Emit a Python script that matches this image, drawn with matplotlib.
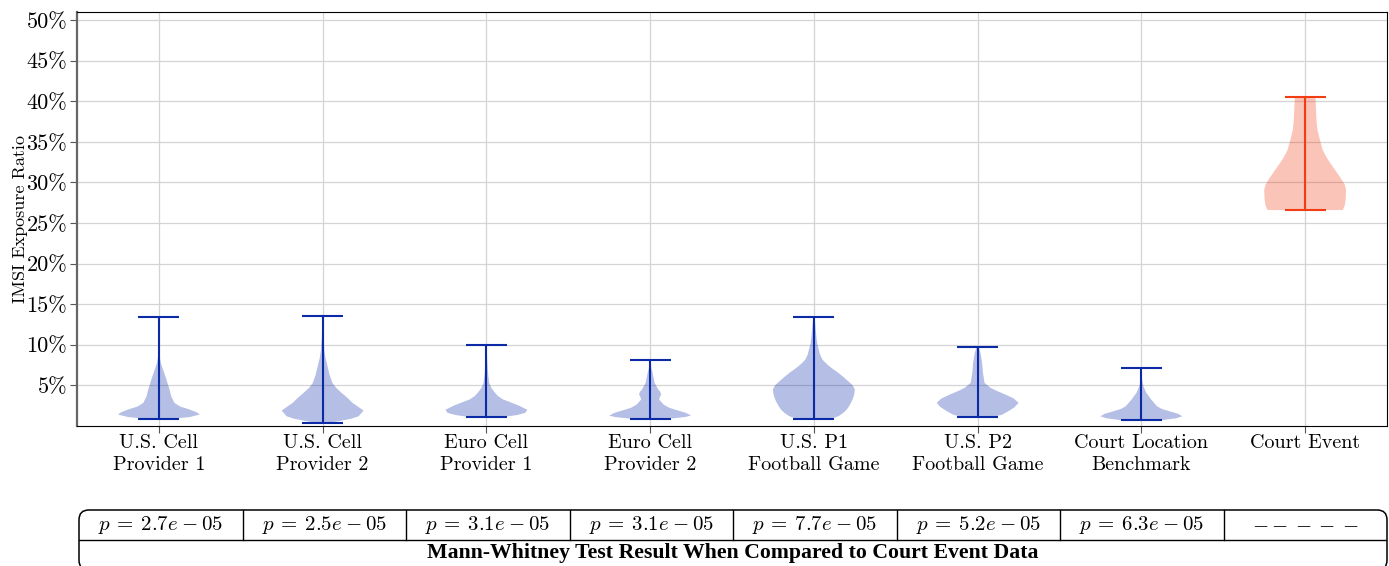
import numpy as np
import matplotlib
matplotlib.use("Agg")
import matplotlib.pyplot as plt
from matplotlib.patches import FancyBboxPatch

plt.rcParams["font.family"] = "serif"
plt.rcParams["font.serif"] = ["cmr10"]
plt.rcParams["mathtext.fontset"] = "cm"
plt.rcParams["axes.formatter.use_mathtext"] = True
plt.rcParams["axes.unicode_minus"] = False

# --------------------------------------------------------------
#  data (percent)
# --------------------------------------------------------------
categories = ["U.S. Cell\nProvider 1", "U.S. Cell\nProvider 2",
              "Euro Cell\nProvider 1", "Euro Cell\nProvider 2",
              "U.S. P1\nFootball Game", "U.S. P2\nFootball Game",
              "Court Location\nBenchmark", "Court Event"]

# density profiles: y levels (%) and relative half widths (0..1)
us_cell_1_y = [0.9, 1.1, 1.41, 1.7, 2.03, 2.4, 2.85, 3.67, 4.5, 5.3, 6.1, 6.95, 7.7, 8.4, 9.4, 11.5, 13.4]
us_cell_1_w = [0.35, 0.75, 1.0, 0.92, 0.75, 0.52, 0.38, 0.3, 0.26, 0.21, 0.16, 0.1, 0.05, 0.025, 0.012, 0.008, 0.005]

us_cell_2_y = [0.4, 0.6, 0.9, 1.2, 1.9, 2.4, 2.85, 3.5, 4.1, 4.7, 5.3, 6.3, 7.35, 8.4, 9.4, 11.5, 13.6]
us_cell_2_w = [0.15, 0.4, 0.7, 0.88, 1.0, 0.86, 0.73, 0.6, 0.46, 0.33, 0.24, 0.17, 0.12, 0.07, 0.04, 0.015, 0.005]

euro_cell_1_y = [1.13, 1.35, 1.62, 2.0, 2.5, 3.0, 3.26, 3.7, 4.1, 4.7, 5.3, 6.3, 7.4, 8.7, 10.0]
euro_cell_1_w = [0.45, 0.75, 0.95, 1.0, 0.8, 0.55, 0.41, 0.28, 0.21, 0.12, 0.07, 0.045, 0.03, 0.015, 0.008]

euro_cell_2_y = [0.92, 1.1, 1.29, 1.62, 2.0, 2.24, 2.64, 3.26, 3.6, 3.87, 4.2, 4.49, 5.3, 6.54, 7.35, 8.18]
euro_cell_2_w = [0.5, 0.85, 1.0, 0.87, 0.62, 0.47, 0.33, 0.22, 0.24, 0.27, 0.25, 0.2, 0.11, 0.06, 0.02, 0.005]

us_p1_y = [0.88, 1.2, 1.62, 2.0, 2.44, 3.0, 3.47, 4.0, 4.49, 5.0, 5.51, 6.0, 6.54, 7.0, 7.35, 7.8, 8.18, 8.8, 9.4, 10.2, 11.05, 12.7, 13.4]
us_p1_w = [0.42, 0.6, 0.72, 0.8, 0.86, 0.92, 0.96, 0.99, 1.0, 0.95, 0.84, 0.73, 0.6, 0.47, 0.38, 0.28, 0.21, 0.15, 0.12, 0.08, 0.06, 0.03, 0.02]

us_p2_y = [1.13, 1.4, 1.82, 2.3, 2.85, 3.4, 3.87, 4.3, 4.69, 5.3, 6.54, 7.77, 9.0, 9.7]
us_p2_w = [0.4, 0.6, 0.75, 0.9, 1.0, 0.88, 0.68, 0.48, 0.32, 0.17, 0.13, 0.11, 0.07, 0.03]

court_loc_y = [0.72, 0.95, 1.2, 1.5, 1.82, 2.1, 2.44, 3.26, 4.08, 4.9, 5.9, 7.16]
court_loc_w = [0.5, 0.85, 1.0, 0.9, 0.68, 0.5, 0.38, 0.24, 0.12, 0.05, 0.01, 0.005]

court_event_y = [26.6, 27.2, 27.9, 29.1, 29.7, 30.3, 30.9, 31.55, 32.2, 32.8, 33.4, 34.0, 35.25, 36.5, 37.5, 38.5, 40.57]
court_event_w = [0.92, 0.97, 0.99, 1.0, 0.97, 0.9, 0.82, 0.73, 0.64, 0.56, 0.49, 0.43, 0.36, 0.3, 0.28, 0.27, 0.25]

profiles_y = [us_cell_1_y, us_cell_2_y, euro_cell_1_y, euro_cell_2_y,
              us_p1_y, us_p2_y, court_loc_y, court_event_y]
profiles_w = [us_cell_1_w, us_cell_2_w, euro_cell_1_w, euro_cell_2_w,
              us_p1_w, us_p2_w, court_loc_w, court_event_w]

p_values = ["2.7e", "2.5e", "3.1e", "3.1e", "7.7e", "5.2e", "6.3e", None]
table_title = "Mann-Whitney Test Result When Compared to Court Event Data"

yticks = [5, 10, 15, 20, 25, 30, 35, 40, 45, 50]

blue = "#0b2aa6"
red = "#f23c14"
colors = [blue] * 7 + [red]

# --------------------------------------------------------------
#  figure
# --------------------------------------------------------------
W, H = 1389, 566
fig = plt.figure(figsize=(W / 100, H / 100), dpi=100)
ax = fig.add_axes([77 / W, 1 - 426 / H, (1387 - 77) / W, (426 - 12) / H])

positions = np.arange(1, len(categories) + 1)
vpstats = []
for ys, ws in zip(profiles_y, profiles_w):
    vpstats.append({"coords": np.array(ys), "vals": np.array(ws),
                    "mean": np.nan, "median": np.nan,
                    "min": ys[0], "max": ys[-1]})

parts = ax.violin(vpstats, positions=positions, widths=0.5, showextrema=True)
for body, c in zip(parts["bodies"], colors):
    body.set_facecolor(c)
    body.set_edgecolor("none")
    body.set_alpha(0.3)
for key in ("cbars", "cmins", "cmaxes"):
    parts[key].set_color(colors)
    parts[key].set_linewidth(1.5)

ax.set_xlim(0.5, len(categories) + 0.5)
ax.set_ylim(0, 51)
ax.set_xticks(positions)
ax.set_xticklabels(categories, fontsize=14.5, linespacing=1.25)
ax.set_yticks(yticks)
ax.set_yticklabels([f"{v}%" for v in yticks], fontsize=16)
ax.set_ylabel("IMSI Exposure Ratio", fontsize=13, labelpad=-1)
ax.grid(True, color="#d4d4d4", linewidth=0.9)
ax.set_axisbelow(True)
ax.tick_params(length=5, color="#555555", pad=2)
ax.tick_params(axis="x", pad=1)
ax.spines["left"].set_color("#666666")
ax.spines["left"].set_linewidth(1.6)

# --------------------------------------------------------------
#  p-value table below the plot (units: x = column, y = pixels up)
# --------------------------------------------------------------
tab = fig.add_axes([79 / W, -6 / H, (1387 - 79) / W, 64 / H])
n = len(categories)
tab.set_xlim(0, n)
tab.set_ylim(0, 64)
tab.axis("off")
box = FancyBboxPatch((0, 2), n, 60, boxstyle="round,pad=0,rounding_size=0.06",
                     mutation_aspect=163.5, facecolor="none",
                     edgecolor="black", linewidth=1.1, clip_on=False)
tab.add_patch(box)
tab.plot([0, n], [32, 32], color="black", linewidth=1.0)
for k in range(1, n):
    tab.plot([k, k], [32, 62], color="black", linewidth=1.0)
for k, mant in enumerate(p_values):
    if mant is None:
        txt = r"$- - - - -$"
    else:
        txt = rf"$p\:=\:{mant}\:-\:05$"
    tab.text(k + 0.5, 47, txt, ha="center", va="center", fontsize=15)
tab.text(n / 2, 19, table_title, ha="center", va="center", fontsize=15.7,
         family="Liberation Serif", weight="bold")

fig.savefig("out.png", dpi=100)
